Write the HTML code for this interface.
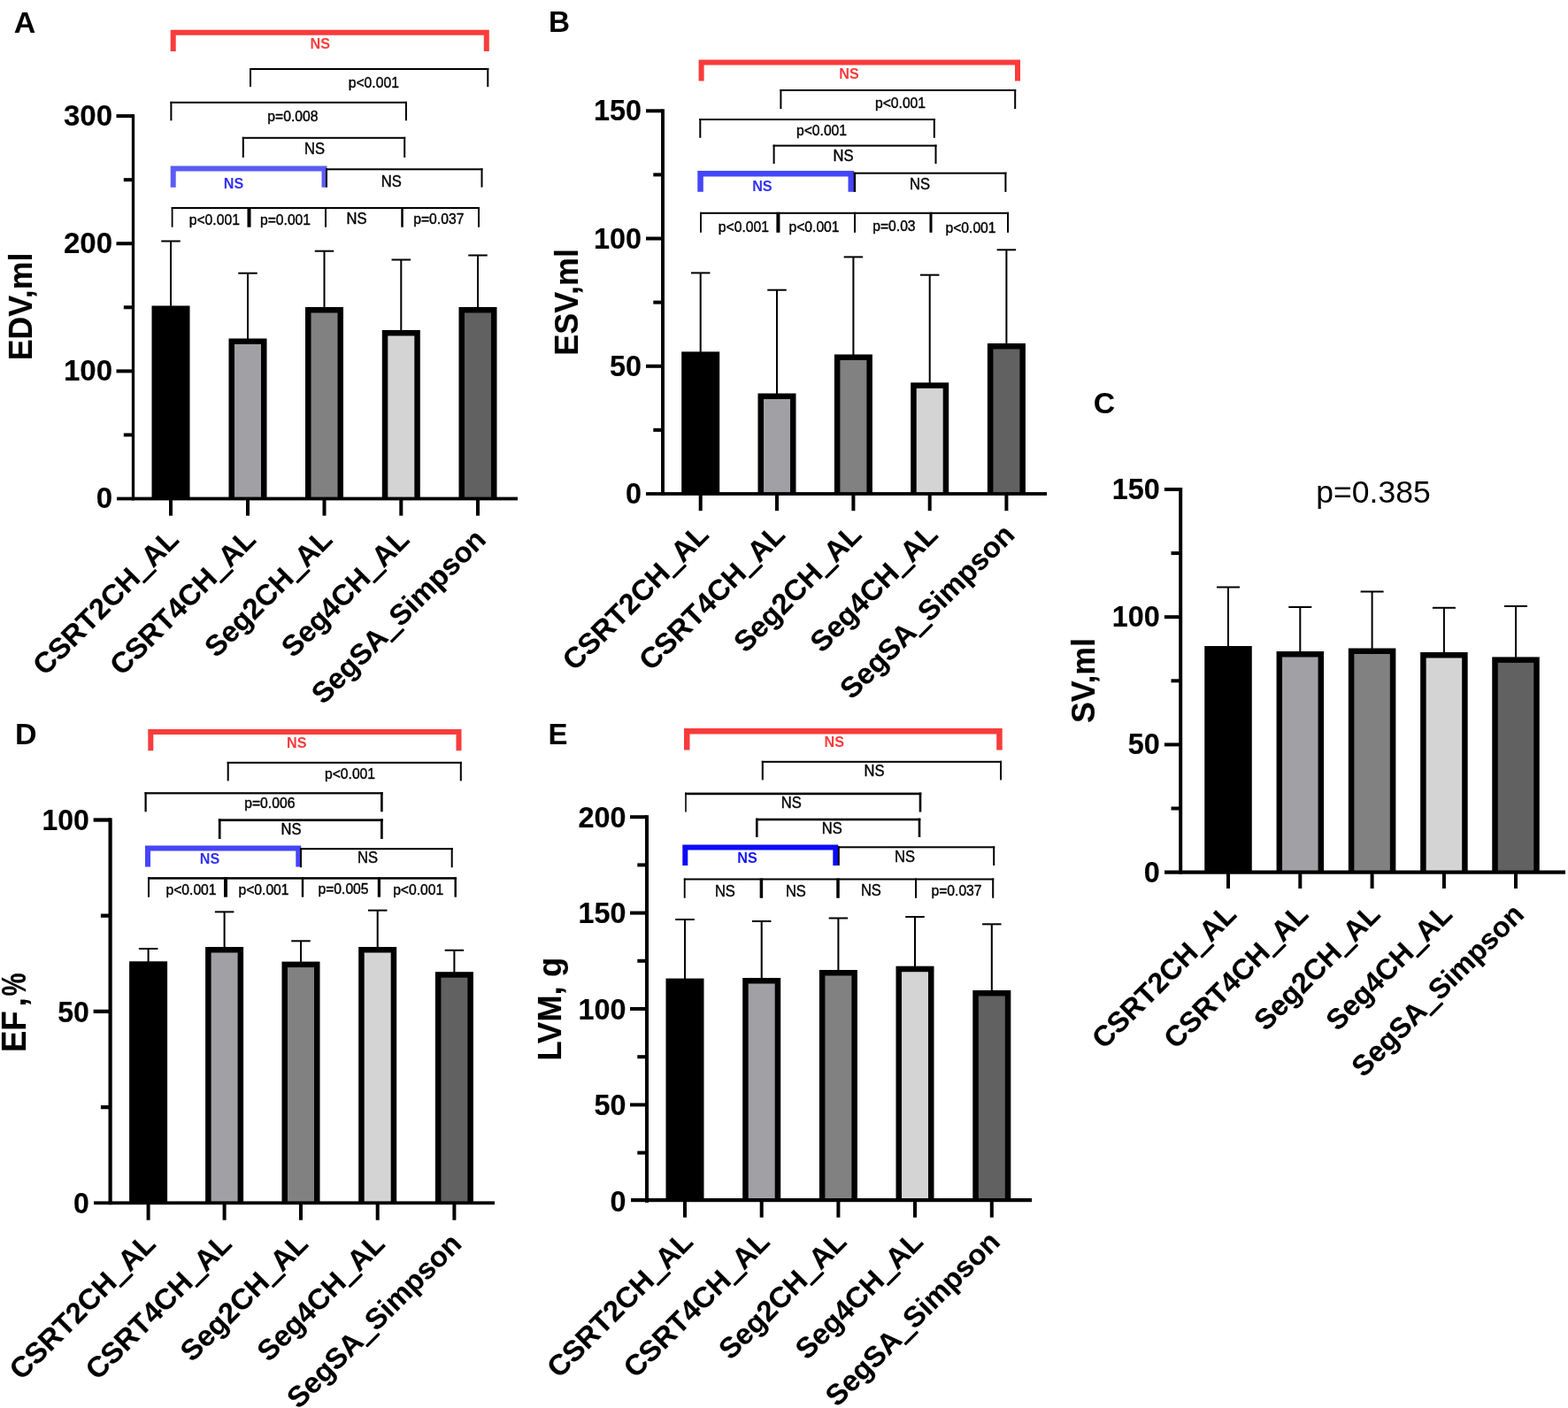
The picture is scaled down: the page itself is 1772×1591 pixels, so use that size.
<!DOCTYPE html>
<html lang="en">
<head>
<meta charset="utf-8">
<title>Figure</title>
<style>
html,body{margin:0;padding:0;background:#fff;}
body{width:1772px;height:1591px;overflow:hidden;}
svg{display:block;font-family:"Liberation Sans",Arial,Helvetica,sans-serif;}
</style>
</head>
<body>
<svg width="1772" height="1591" viewBox="0 0 1772 1591">
<rect width="1772" height="1591" fill="#fff"/>
<g>
<text transform="translate(15.8,36.5)" font-size="34" font-weight="bold" text-anchor="start" fill="#000">A</text>
<rect x="192" y="272.5" width="2" height="74" fill="#000"/>
<rect x="182.25" y="271.5" width="21.5" height="2" fill="#000"/>
<rect x="171.5" y="345.5" width="43" height="218" fill="#000"/>
<rect x="279" y="308.7" width="2" height="74.8" fill="#000"/>
<rect x="269.25" y="307.7" width="21.5" height="2" fill="#000"/>
<rect x="258.5" y="382.5" width="43" height="181" fill="#000"/>
<rect x="265" y="389" width="30" height="174.5" fill="#a1a1a5"/>
<rect x="365.5" y="283.7" width="2" height="64.3" fill="#000"/>
<rect x="355.75" y="282.7" width="21.5" height="2" fill="#000"/>
<rect x="345" y="347" width="43" height="216.5" fill="#000"/>
<rect x="351.5" y="353.5" width="30" height="210" fill="#818181"/>
<rect x="452.3" y="293.5" width="2" height="80.5" fill="#000"/>
<rect x="442.55" y="292.5" width="21.5" height="2" fill="#000"/>
<rect x="431.8" y="373" width="43" height="190.5" fill="#000"/>
<rect x="438.3" y="379.5" width="30" height="184" fill="#d4d4d4"/>
<rect x="539" y="288.5" width="2" height="59.5" fill="#000"/>
<rect x="529.25" y="287.5" width="21.5" height="2" fill="#000"/>
<rect x="518.5" y="347" width="43" height="216.5" fill="#000"/>
<rect x="525" y="353.5" width="30" height="210" fill="#616161"/>
<rect x="148.85" y="129.1" width="3.3" height="436.3" fill="#000"/>
<rect x="132" y="561.6" width="453" height="3.8" fill="#000"/>
<text transform="translate(127,574.41)" font-size="33" font-weight="bold" stroke="#000" stroke-width="0.15" stroke-linejoin="round" text-anchor="end" fill="#000">0</text>
<rect x="139.8" y="489.43" width="10.7" height="4" fill="#000"/>
<rect x="131.5" y="417.37" width="19" height="4" fill="#000"/>
<text transform="translate(127,430.28)" font-size="33" font-weight="bold" stroke="#000" stroke-width="0.15" stroke-linejoin="round" text-anchor="end" fill="#000">100</text>
<rect x="139.8" y="345.3" width="10.7" height="4" fill="#000"/>
<rect x="131.5" y="273.23" width="19" height="4" fill="#000"/>
<text transform="translate(127,286.15)" font-size="33" font-weight="bold" stroke="#000" stroke-width="0.15" stroke-linejoin="round" text-anchor="end" fill="#000">200</text>
<rect x="139.8" y="201.17" width="10.7" height="4" fill="#000"/>
<rect x="131.5" y="129.1" width="19" height="4" fill="#000"/>
<text transform="translate(127,142.01)" font-size="33" font-weight="bold" stroke="#000" stroke-width="0.15" stroke-linejoin="round" text-anchor="end" fill="#000">300</text>
<rect x="191" y="563.5" width="4" height="19.2" fill="#000"/>
<text transform="translate(204,611.5) rotate(-45)" font-size="32.8" font-weight="bold" stroke="#000" stroke-width="0.15" stroke-linejoin="round" text-anchor="end" fill="#000">CSRT2CH<tspan stroke="#000" stroke-width="2">_</tspan>AL</text>
<rect x="278" y="563.5" width="4" height="19.2" fill="#000"/>
<text transform="translate(291,611.5) rotate(-45)" font-size="32.8" font-weight="bold" stroke="#000" stroke-width="0.15" stroke-linejoin="round" text-anchor="end" fill="#000">CSRT4CH<tspan stroke="#000" stroke-width="2">_</tspan>AL</text>
<rect x="364.5" y="563.5" width="4" height="19.2" fill="#000"/>
<text transform="translate(377.5,611.5) rotate(-45)" font-size="32.8" font-weight="bold" stroke="#000" stroke-width="0.15" stroke-linejoin="round" text-anchor="end" fill="#000">Seg2CH<tspan stroke="#000" stroke-width="2">_</tspan>AL</text>
<rect x="451.3" y="563.5" width="4" height="19.2" fill="#000"/>
<text transform="translate(464.3,611.5) rotate(-45)" font-size="32.8" font-weight="bold" stroke="#000" stroke-width="0.15" stroke-linejoin="round" text-anchor="end" fill="#000">Seg4CH<tspan stroke="#000" stroke-width="2">_</tspan>AL</text>
<rect x="538" y="563.5" width="4" height="19.2" fill="#000"/>
<text transform="translate(551,611.5) rotate(-45)" font-size="32.8" font-weight="bold" stroke="#000" stroke-width="0.15" stroke-linejoin="round" text-anchor="end" fill="#000">SegSA<tspan stroke="#000" stroke-width="2">_</tspan>Simpson</text>
<text transform="translate(36.2,346.5) rotate(-90) scale(0.96,1)" font-size="37.2" font-weight="bold" stroke="#000" stroke-width="0.15" stroke-linejoin="round" text-anchor="middle" fill="#000">EDV,ml</text>
<path d="M195.7 58V36.7H549.8V58" fill="none" stroke="#f93b3b" stroke-width="6"/>
<text transform="translate(361.7,55.26) scale(0.94,1)" font-size="17.2" font-weight="bold" text-anchor="middle" fill="#f93b3b">NS</text>
<rect x="282" y="77" width="270.3" height="2" fill="#000"/>
<rect x="282" y="77" width="2" height="21.2" fill="#000"/>
<rect x="550.3" y="77" width="2" height="21.2" fill="#000"/>
<text transform="translate(422.3,98.78) scale(0.94,1)" font-size="16.7" stroke="#000" stroke-width="0.4" stroke-linejoin="round" text-anchor="middle" fill="#000">p&lt;0.001</text>
<rect x="192.4" y="114.8" width="267.5" height="2" fill="#000"/>
<rect x="192.4" y="114.8" width="2" height="21.5" fill="#000"/>
<rect x="457.9" y="114.8" width="2" height="21.5" fill="#000"/>
<text transform="translate(330.9,136.78) scale(0.94,1)" font-size="16.7" stroke="#000" stroke-width="0.4" stroke-linejoin="round" text-anchor="middle" fill="#000">p=0.008</text>
<rect x="273.8" y="154.8" width="184.4" height="2" fill="#000"/>
<rect x="273.8" y="154.8" width="2" height="23.2" fill="#000"/>
<rect x="456.2" y="154.8" width="2" height="23.2" fill="#000"/>
<text transform="translate(355.6,174.37) scale(0.93,1)" font-size="17.8" stroke="#000" stroke-width="0.4" stroke-linejoin="round" text-anchor="middle" fill="#000">NS</text>
<path d="M195.7 211.7V190.5H366.5V211.7" fill="none" stroke="#5b5bf6" stroke-width="6"/>
<rect x="368" y="190.3" width="177.5" height="2" fill="#000"/>
<rect x="368" y="190.3" width="2" height="21.3" fill="#000"/>
<rect x="543.5" y="190.3" width="2" height="21.3" fill="#000"/>
<text transform="translate(264,212.66) scale(0.94,1)" font-size="17.2" font-weight="bold" text-anchor="middle" fill="#3030f0">NS</text>
<text transform="translate(442.3,211.07) scale(0.93,1)" font-size="17.8" stroke="#000" stroke-width="0.4" stroke-linejoin="round" text-anchor="middle" fill="#000">NS</text>
<rect x="193.7" y="234" width="348.3" height="2" fill="#000"/>
<rect x="193.7" y="234" width="1.8" height="22.7" fill="#000"/>
<rect x="279.5" y="234" width="4" height="22.7" fill="#000"/>
<rect x="367" y="234" width="2" height="22.7" fill="#000"/>
<rect x="453.25" y="234" width="2.5" height="22.7" fill="#000"/>
<rect x="540" y="234" width="2" height="22.7" fill="#000"/>
<text transform="translate(242.3,253.78) scale(0.94,1)" font-size="16.7" stroke="#000" stroke-width="0.4" stroke-linejoin="round" text-anchor="middle" fill="#000">p&lt;0.001</text>
<text transform="translate(322.5,253.78) scale(0.94,1)" font-size="16.7" stroke="#000" stroke-width="0.4" stroke-linejoin="round" text-anchor="middle" fill="#000">p=0.001</text>
<text transform="translate(403,253.37) scale(0.93,1)" font-size="17.8" stroke="#000" stroke-width="0.4" stroke-linejoin="round" text-anchor="middle" fill="#000">NS</text>
<text transform="translate(495.8,253.48) scale(0.94,1)" font-size="16.7" stroke="#000" stroke-width="0.4" stroke-linejoin="round" text-anchor="middle" fill="#000">p=0.037</text>
</g>
<g>
<text transform="translate(620,36.3)" font-size="33.3" font-weight="bold" text-anchor="start" fill="#000">B</text>
<rect x="790.7" y="308.4" width="2" height="90" fill="#000"/>
<rect x="780.95" y="307.4" width="21.5" height="2" fill="#000"/>
<rect x="770.2" y="397.4" width="43" height="160.6" fill="#000"/>
<rect x="877" y="327.7" width="2" height="117.8" fill="#000"/>
<rect x="867.25" y="326.7" width="21.5" height="2" fill="#000"/>
<rect x="856.5" y="444.5" width="43" height="113.5" fill="#000"/>
<rect x="863" y="451" width="30" height="107" fill="#a1a1a5"/>
<rect x="963.4" y="290.4" width="2" height="111.1" fill="#000"/>
<rect x="953.65" y="289.4" width="21.5" height="2" fill="#000"/>
<rect x="942.9" y="400.5" width="43" height="157.5" fill="#000"/>
<rect x="949.4" y="407" width="30" height="151" fill="#818181"/>
<rect x="1049.7" y="310.7" width="2" height="122.6" fill="#000"/>
<rect x="1039.95" y="309.7" width="21.5" height="2" fill="#000"/>
<rect x="1029.2" y="432.3" width="43" height="125.7" fill="#000"/>
<rect x="1035.7" y="438.8" width="30" height="119.2" fill="#d4d4d4"/>
<rect x="1136.4" y="282.3" width="2" height="106.7" fill="#000"/>
<rect x="1126.65" y="281.3" width="21.5" height="2" fill="#000"/>
<rect x="1115.9" y="388" width="43" height="170" fill="#000"/>
<rect x="1122.4" y="394.5" width="30" height="163.5" fill="#616161"/>
<rect x="747.05" y="123.3" width="3.9" height="436.6" fill="#000"/>
<rect x="730" y="556.1" width="453" height="3.8" fill="#000"/>
<text transform="translate(725,569.11) scale(0.98,1)" font-size="33" font-weight="bold" stroke="#000" stroke-width="0.15" stroke-linejoin="round" text-anchor="end" fill="#000">0</text>
<rect x="738.3" y="483.88" width="10.7" height="4" fill="#000"/>
<rect x="730" y="411.77" width="19" height="4" fill="#000"/>
<text transform="translate(725,424.88) scale(0.98,1)" font-size="33" font-weight="bold" stroke="#000" stroke-width="0.15" stroke-linejoin="round" text-anchor="end" fill="#000">50</text>
<rect x="738.3" y="339.65" width="10.7" height="4" fill="#000"/>
<rect x="730" y="267.53" width="19" height="4" fill="#000"/>
<text transform="translate(725,280.65) scale(0.98,1)" font-size="33" font-weight="bold" stroke="#000" stroke-width="0.15" stroke-linejoin="round" text-anchor="end" fill="#000">100</text>
<rect x="738.3" y="195.42" width="10.7" height="4" fill="#000"/>
<rect x="730" y="123.3" width="19" height="4" fill="#000"/>
<text transform="translate(725,136.41) scale(0.98,1)" font-size="33" font-weight="bold" stroke="#000" stroke-width="0.15" stroke-linejoin="round" text-anchor="end" fill="#000">150</text>
<rect x="789.7" y="558" width="4" height="19.2" fill="#000"/>
<text transform="translate(802.7,606) rotate(-45)" font-size="32.8" font-weight="bold" stroke="#000" stroke-width="0.15" stroke-linejoin="round" text-anchor="end" fill="#000">CSRT2CH<tspan stroke="#000" stroke-width="2">_</tspan>AL</text>
<rect x="876" y="558" width="4" height="19.2" fill="#000"/>
<text transform="translate(889,606) rotate(-45)" font-size="32.8" font-weight="bold" stroke="#000" stroke-width="0.15" stroke-linejoin="round" text-anchor="end" fill="#000">CSRT4CH<tspan stroke="#000" stroke-width="2">_</tspan>AL</text>
<rect x="962.4" y="558" width="4" height="19.2" fill="#000"/>
<text transform="translate(975.4,606) rotate(-45)" font-size="32.8" font-weight="bold" stroke="#000" stroke-width="0.15" stroke-linejoin="round" text-anchor="end" fill="#000">Seg2CH<tspan stroke="#000" stroke-width="2">_</tspan>AL</text>
<rect x="1048.7" y="558" width="4" height="19.2" fill="#000"/>
<text transform="translate(1061.7,606) rotate(-45)" font-size="32.8" font-weight="bold" stroke="#000" stroke-width="0.15" stroke-linejoin="round" text-anchor="end" fill="#000">Seg4CH<tspan stroke="#000" stroke-width="2">_</tspan>AL</text>
<rect x="1135.4" y="558" width="4" height="19.2" fill="#000"/>
<text transform="translate(1148.4,606) rotate(-45)" font-size="32.8" font-weight="bold" stroke="#000" stroke-width="0.15" stroke-linejoin="round" text-anchor="end" fill="#000">SegSA<tspan stroke="#000" stroke-width="2">_</tspan>Simpson</text>
<text transform="translate(652.6,341.4) rotate(-90) scale(0.96,1)" font-size="37.5" font-weight="bold" stroke="#000" stroke-width="0.15" stroke-linejoin="round" text-anchor="middle" fill="#000">ESV,ml</text>
<path d="M792.6 91.5V70.5H1150V91.5" fill="none" stroke="#f93b3b" stroke-width="6"/>
<text transform="translate(959.6,88.66) scale(0.94,1)" font-size="17.2" font-weight="bold" text-anchor="middle" fill="#f93b3b">NS</text>
<rect x="881.4" y="101" width="266.8" height="2" fill="#000"/>
<rect x="881.4" y="101" width="2" height="22" fill="#000"/>
<rect x="1146.2" y="101" width="2" height="22" fill="#000"/>
<text transform="translate(1017.5,121.98) scale(0.94,1)" font-size="16.7" stroke="#000" stroke-width="0.4" stroke-linejoin="round" text-anchor="middle" fill="#000">p&lt;0.001</text>
<rect x="790.3" y="134" width="266.5" height="2" fill="#000"/>
<rect x="790.3" y="134" width="2" height="21.8" fill="#000"/>
<rect x="1054.8" y="134" width="2" height="21.8" fill="#000"/>
<text transform="translate(928.5,153.48) scale(0.94,1)" font-size="16.7" stroke="#000" stroke-width="0.4" stroke-linejoin="round" text-anchor="middle" fill="#000">p&lt;0.001</text>
<rect x="873.6" y="163.6" width="184.9" height="2" fill="#000"/>
<rect x="873.6" y="163.6" width="2" height="21.4" fill="#000"/>
<rect x="1056.5" y="163.6" width="2" height="21.4" fill="#000"/>
<text transform="translate(953,182.17) scale(0.93,1)" font-size="17.8" stroke="#000" stroke-width="0.4" stroke-linejoin="round" text-anchor="middle" fill="#000">NS</text>
<path d="M791.55 216.7V196.25H961.75V216.7" fill="none" stroke="#4545f8" stroke-width="6.5"/>
<rect x="964.7" y="194.7" width="172.7" height="2" fill="#000"/>
<rect x="964.7" y="194.7" width="2.4" height="22.2" fill="#000"/>
<rect x="1135.4" y="194.7" width="2" height="22.2" fill="#000"/>
<text transform="translate(861.4,215.96) scale(0.94,1)" font-size="17.2" font-weight="bold" text-anchor="middle" fill="#3030f0">NS</text>
<text transform="translate(1039.5,214.37) scale(0.93,1)" font-size="17.8" stroke="#000" stroke-width="0.4" stroke-linejoin="round" text-anchor="middle" fill="#000">NS</text>
<rect x="791.1" y="239.8" width="348.9" height="2" fill="#000"/>
<rect x="791.1" y="239.8" width="1.8" height="23" fill="#000"/>
<rect x="877.4" y="239.8" width="4" height="23" fill="#000"/>
<rect x="965" y="239.8" width="2" height="23" fill="#000"/>
<rect x="1050.5" y="239.8" width="3" height="23" fill="#000"/>
<rect x="1138" y="239.8" width="2" height="23" fill="#000"/>
<text transform="translate(840.4,262.48) scale(0.94,1)" font-size="16.7" stroke="#000" stroke-width="0.4" stroke-linejoin="round" text-anchor="middle" fill="#000">p&lt;0.001</text>
<text transform="translate(920,262.48) scale(0.94,1)" font-size="16.7" stroke="#000" stroke-width="0.4" stroke-linejoin="round" text-anchor="middle" fill="#000">p&lt;0.001</text>
<text transform="translate(1010.4,260.78) scale(0.94,1)" font-size="16.7" stroke="#000" stroke-width="0.4" stroke-linejoin="round" text-anchor="middle" fill="#000">p=0.03</text>
<text transform="translate(1097,263.18) scale(0.94,1)" font-size="16.7" stroke="#000" stroke-width="0.4" stroke-linejoin="round" text-anchor="middle" fill="#000">p&lt;0.001</text>
</g>
<g>
<text transform="translate(1235.8,466.5)" font-size="33.8" font-weight="bold" text-anchor="start" fill="#000">C</text>
<rect x="1387" y="663.5" width="2" height="67.5" fill="#000"/>
<rect x="1375" y="662.5" width="26" height="2" fill="#000"/>
<rect x="1361.25" y="730" width="53.5" height="255.6" fill="#000"/>
<rect x="1468.3" y="686" width="2" height="51" fill="#000"/>
<rect x="1456.3" y="685" width="26" height="2" fill="#000"/>
<rect x="1442.55" y="736" width="53.5" height="249.6" fill="#000"/>
<rect x="1449.05" y="742.5" width="40.5" height="243.1" fill="#a1a1a5"/>
<rect x="1549.6" y="668.5" width="2" height="65" fill="#000"/>
<rect x="1537.6" y="667.5" width="26" height="2" fill="#000"/>
<rect x="1523.85" y="732.5" width="53.5" height="253.1" fill="#000"/>
<rect x="1530.35" y="739" width="40.5" height="246.6" fill="#818181"/>
<rect x="1630.9" y="686.8" width="2" height="51.2" fill="#000"/>
<rect x="1618.9" y="685.8" width="26" height="2" fill="#000"/>
<rect x="1605.15" y="737" width="53.5" height="248.6" fill="#000"/>
<rect x="1611.65" y="743.5" width="40.5" height="242.1" fill="#d4d4d4"/>
<rect x="1712" y="685" width="2" height="58.4" fill="#000"/>
<rect x="1700" y="684" width="26" height="2" fill="#000"/>
<rect x="1686.25" y="742.4" width="53.5" height="243.2" fill="#000"/>
<rect x="1692.75" y="748.9" width="40.5" height="236.7" fill="#616161"/>
<rect x="1332.2" y="551" width="4" height="436.7" fill="#000"/>
<rect x="1316" y="983.5" width="453" height="4.2" fill="#000"/>
<text transform="translate(1310.8,996.51) scale(0.98,1)" font-size="33" font-weight="bold" stroke="#000" stroke-width="0.15" stroke-linejoin="round" text-anchor="end" fill="#000">0</text>
<rect x="1323.5" y="911.5" width="10.7" height="4" fill="#000"/>
<rect x="1315.9" y="839.4" width="18.3" height="4" fill="#000"/>
<text transform="translate(1310.8,852.31) scale(0.98,1)" font-size="33" font-weight="bold" stroke="#000" stroke-width="0.15" stroke-linejoin="round" text-anchor="end" fill="#000">50</text>
<rect x="1323.5" y="767.3" width="10.7" height="4" fill="#000"/>
<rect x="1315.9" y="695.2" width="18.3" height="4" fill="#000"/>
<text transform="translate(1310.8,708.11) scale(0.98,1)" font-size="33" font-weight="bold" stroke="#000" stroke-width="0.15" stroke-linejoin="round" text-anchor="end" fill="#000">100</text>
<rect x="1323.5" y="623.1" width="10.7" height="4" fill="#000"/>
<rect x="1315.9" y="551" width="18.3" height="4" fill="#000"/>
<text transform="translate(1310.8,563.91) scale(0.98,1)" font-size="33" font-weight="bold" stroke="#000" stroke-width="0.15" stroke-linejoin="round" text-anchor="end" fill="#000">150</text>
<rect x="1386" y="985.6" width="4" height="18.4" fill="#000"/>
<text transform="translate(1399,1035.1) rotate(-45)" font-size="32.4" font-weight="bold" stroke="#000" stroke-width="0.15" stroke-linejoin="round" text-anchor="end" fill="#000">CSRT2CH<tspan stroke="#000" stroke-width="2">_</tspan>AL</text>
<rect x="1467.3" y="985.6" width="4" height="18.4" fill="#000"/>
<text transform="translate(1480.3,1035.1) rotate(-45)" font-size="32.4" font-weight="bold" stroke="#000" stroke-width="0.15" stroke-linejoin="round" text-anchor="end" fill="#000">CSRT4CH<tspan stroke="#000" stroke-width="2">_</tspan>AL</text>
<rect x="1548.6" y="985.6" width="4" height="18.4" fill="#000"/>
<text transform="translate(1561.6,1035.1) rotate(-45)" font-size="32.4" font-weight="bold" stroke="#000" stroke-width="0.15" stroke-linejoin="round" text-anchor="end" fill="#000">Seg2CH<tspan stroke="#000" stroke-width="2">_</tspan>AL</text>
<rect x="1629.9" y="985.6" width="4" height="18.4" fill="#000"/>
<text transform="translate(1642.9,1035.1) rotate(-45)" font-size="32.4" font-weight="bold" stroke="#000" stroke-width="0.15" stroke-linejoin="round" text-anchor="end" fill="#000">Seg4CH<tspan stroke="#000" stroke-width="2">_</tspan>AL</text>
<rect x="1711" y="985.6" width="4" height="18.4" fill="#000"/>
<text transform="translate(1724,1035.1) rotate(-45)" font-size="32.4" font-weight="bold" stroke="#000" stroke-width="0.15" stroke-linejoin="round" text-anchor="end" fill="#000">SegSA<tspan stroke="#000" stroke-width="2">_</tspan>Simpson</text>
<text transform="translate(1236.7,769) rotate(-90) scale(0.96,1)" font-size="37.2" font-weight="bold" stroke="#000" stroke-width="0.15" stroke-linejoin="round" text-anchor="middle" fill="#000">SV,ml</text>
<text transform="translate(1552,568.3)" font-size="35.5" text-anchor="middle" fill="#000">p=0.385</text>
</g>
<g>
<text transform="translate(17,841)" font-size="34" font-weight="bold" text-anchor="start" fill="#000">D</text>
<rect x="166.6" y="1072" width="2" height="15.3" fill="#000"/>
<rect x="156.85" y="1071" width="21.5" height="2" fill="#000"/>
<rect x="146.1" y="1086.3" width="43" height="273" fill="#000"/>
<rect x="252.6" y="1030.4" width="2" height="40.6" fill="#000"/>
<rect x="242.85" y="1029.4" width="21.5" height="2" fill="#000"/>
<rect x="232.1" y="1070" width="43" height="289.3" fill="#000"/>
<rect x="238.6" y="1076.5" width="30" height="282.8" fill="#a1a1a5"/>
<rect x="339" y="1063.3" width="2" height="24.3" fill="#000"/>
<rect x="329.25" y="1062.3" width="21.5" height="2" fill="#000"/>
<rect x="318.5" y="1086.6" width="43" height="272.7" fill="#000"/>
<rect x="325" y="1093.1" width="30" height="266.2" fill="#818181"/>
<rect x="425.7" y="1028.7" width="2" height="42.3" fill="#000"/>
<rect x="415.95" y="1027.7" width="21.5" height="2" fill="#000"/>
<rect x="405.2" y="1070" width="43" height="289.3" fill="#000"/>
<rect x="411.7" y="1076.5" width="30" height="282.8" fill="#d4d4d4"/>
<rect x="512.4" y="1073.8" width="2" height="25.4" fill="#000"/>
<rect x="502.65" y="1072.8" width="21.5" height="2" fill="#000"/>
<rect x="491.9" y="1098.2" width="43" height="261.1" fill="#000"/>
<rect x="498.4" y="1104.7" width="30" height="254.6" fill="#616161"/>
<rect x="122.5" y="924.35" width="4.2" height="436.85" fill="#000"/>
<rect x="106" y="1357.4" width="453" height="3.8" fill="#000"/>
<text transform="translate(100.8,1371.11) scale(0.97,1)" font-size="33" font-weight="bold" stroke="#000" stroke-width="0.15" stroke-linejoin="round" text-anchor="end" fill="#000">0</text>
<rect x="113.9" y="1248.95" width="10.7" height="4.3" fill="#000"/>
<rect x="105.6" y="1140.75" width="19" height="4.3" fill="#000"/>
<text transform="translate(100.8,1154.71) scale(0.97,1)" font-size="33" font-weight="bold" stroke="#000" stroke-width="0.15" stroke-linejoin="round" text-anchor="end" fill="#000">50</text>
<rect x="113.9" y="1032.55" width="10.7" height="4.3" fill="#000"/>
<rect x="105.6" y="924.35" width="19" height="4.3" fill="#000"/>
<text transform="translate(100.8,938.31) scale(0.97,1)" font-size="33" font-weight="bold" stroke="#000" stroke-width="0.15" stroke-linejoin="round" text-anchor="end" fill="#000">100</text>
<rect x="165.6" y="1359.3" width="4" height="19.4" fill="#000"/>
<text transform="translate(177.6,1407.3) rotate(-45)" font-size="32.8" font-weight="bold" stroke="#000" stroke-width="0.15" stroke-linejoin="round" text-anchor="end" fill="#000">CSRT2CH<tspan stroke="#000" stroke-width="2">_</tspan>AL</text>
<rect x="251.6" y="1359.3" width="4" height="19.4" fill="#000"/>
<text transform="translate(263.6,1407.3) rotate(-45)" font-size="32.8" font-weight="bold" stroke="#000" stroke-width="0.15" stroke-linejoin="round" text-anchor="end" fill="#000">CSRT4CH<tspan stroke="#000" stroke-width="2">_</tspan>AL</text>
<rect x="338" y="1359.3" width="4" height="19.4" fill="#000"/>
<text transform="translate(350,1407.3) rotate(-45)" font-size="32.8" font-weight="bold" stroke="#000" stroke-width="0.15" stroke-linejoin="round" text-anchor="end" fill="#000">Seg2CH<tspan stroke="#000" stroke-width="2">_</tspan>AL</text>
<rect x="424.7" y="1359.3" width="4" height="19.4" fill="#000"/>
<text transform="translate(436.7,1407.3) rotate(-45)" font-size="32.8" font-weight="bold" stroke="#000" stroke-width="0.15" stroke-linejoin="round" text-anchor="end" fill="#000">Seg4CH<tspan stroke="#000" stroke-width="2">_</tspan>AL</text>
<rect x="511.4" y="1359.3" width="4" height="19.4" fill="#000"/>
<text transform="translate(523.4,1407.3) rotate(-45)" font-size="32.8" font-weight="bold" stroke="#000" stroke-width="0.15" stroke-linejoin="round" text-anchor="end" fill="#000">SegSA<tspan stroke="#000" stroke-width="2">_</tspan>Simpson</text>
<text transform="translate(29.1,1189) rotate(-90) scale(0.95,1)" font-size="38.4" font-weight="bold" stroke="#000" stroke-width="0.15" stroke-linejoin="round" text-anchor="start" fill="#000">EF</text>
<text transform="translate(29.1,1137.6) rotate(-90) scale(0.95,1)" font-size="38.4" font-weight="bold" stroke="#000" stroke-width="0.15" stroke-linejoin="round" text-anchor="start" fill="#000">,</text>
<text transform="translate(29.1,1125.5) rotate(-90) scale(0.76,1)" font-size="38.4" font-weight="bold" stroke="#000" stroke-width="0.15" stroke-linejoin="round" text-anchor="start" fill="#000">%</text>
<path d="M170.3 848.2V826.9H518.5V848.2" fill="none" stroke="#f93b3b" stroke-width="6"/>
<text transform="translate(335.3,844.66) scale(0.94,1)" font-size="17.2" font-weight="bold" text-anchor="middle" fill="#f93b3b">NS</text>
<rect x="256.7" y="860.8" width="265.1" height="2" fill="#000"/>
<rect x="256.7" y="860.8" width="2" height="21.6" fill="#000"/>
<rect x="519.8" y="860.8" width="2" height="21.6" fill="#000"/>
<text transform="translate(395.5,879.78) scale(0.94,1)" font-size="16.7" stroke="#000" stroke-width="0.4" stroke-linejoin="round" text-anchor="middle" fill="#000">p&lt;0.001</text>
<rect x="163.5" y="895.2" width="269.2" height="2.2" fill="#000"/>
<rect x="163.5" y="895.2" width="2.2" height="22.1" fill="#000"/>
<rect x="430.1" y="895.2" width="2.6" height="22.1" fill="#000"/>
<text transform="translate(304.8,913.48) scale(0.94,1)" font-size="16.7" stroke="#000" stroke-width="0.4" stroke-linejoin="round" text-anchor="middle" fill="#000">p=0.006</text>
<rect x="246.85" y="925.35" width="185.9" height="2.7" fill="#000"/>
<rect x="246.85" y="925.35" width="2.7" height="22.65" fill="#000"/>
<rect x="430.05" y="925.35" width="2.7" height="22.65" fill="#000"/>
<text transform="translate(329,942.87) scale(0.93,1)" font-size="17.8" stroke="#000" stroke-width="0.4" stroke-linejoin="round" text-anchor="middle" fill="#000">NS</text>
<path d="M167 979.6V958.4H337.3V979.6" fill="none" stroke="#4545f8" stroke-width="6"/>
<rect x="339" y="958.2" width="172.7" height="2" fill="#000"/>
<rect x="339" y="958.2" width="2" height="22" fill="#000"/>
<rect x="509.7" y="958.2" width="2" height="22" fill="#000"/>
<text transform="translate(237,975.96) scale(0.94,1)" font-size="17.2" font-weight="bold" text-anchor="middle" fill="#3030f0">NS</text>
<text transform="translate(415.5,974.67) scale(0.93,1)" font-size="17.8" stroke="#000" stroke-width="0.4" stroke-linejoin="round" text-anchor="middle" fill="#000">NS</text>
<rect x="167" y="991.15" width="348.9" height="2.5" fill="#000"/>
<rect x="167" y="991.15" width="2" height="22.55" fill="#000"/>
<rect x="253" y="991.15" width="4" height="22.55" fill="#000"/>
<rect x="340.8" y="991.15" width="2.4" height="22.55" fill="#000"/>
<rect x="426.8" y="991.15" width="3.2" height="22.55" fill="#000"/>
<rect x="513.5" y="991.15" width="2.4" height="22.55" fill="#000"/>
<text transform="translate(216,1011.48) scale(0.94,1)" font-size="16.7" stroke="#000" stroke-width="0.4" stroke-linejoin="round" text-anchor="middle" fill="#000">p&lt;0.001</text>
<text transform="translate(298,1011.48) scale(0.94,1)" font-size="16.7" stroke="#000" stroke-width="0.4" stroke-linejoin="round" text-anchor="middle" fill="#000">p&lt;0.001</text>
<text transform="translate(388,1009.98) scale(0.94,1)" font-size="16.7" stroke="#000" stroke-width="0.4" stroke-linejoin="round" text-anchor="middle" fill="#000">p=0.005</text>
<text transform="translate(472.7,1010.98) scale(0.94,1)" font-size="16.7" stroke="#000" stroke-width="0.4" stroke-linejoin="round" text-anchor="middle" fill="#000">p&lt;0.001</text>
</g>
<g>
<text transform="translate(619.6,840.5)" font-size="33" font-weight="bold" text-anchor="start" fill="#000">E</text>
<rect x="773" y="1039" width="2" height="67.6" fill="#000"/>
<rect x="763.25" y="1038" width="21.5" height="2" fill="#000"/>
<rect x="752.5" y="1105.6" width="43" height="251.2" fill="#000"/>
<rect x="859.7" y="1041" width="2" height="65" fill="#000"/>
<rect x="849.95" y="1040" width="21.5" height="2" fill="#000"/>
<rect x="839.2" y="1105" width="43" height="251.8" fill="#000"/>
<rect x="845.7" y="1111.5" width="30" height="245.3" fill="#a1a1a5"/>
<rect x="946.4" y="1037.5" width="2" height="59.5" fill="#000"/>
<rect x="936.65" y="1036.5" width="21.5" height="2" fill="#000"/>
<rect x="925.9" y="1096" width="43" height="260.8" fill="#000"/>
<rect x="932.4" y="1102.5" width="30" height="254.3" fill="#818181"/>
<rect x="1033" y="1036" width="2" height="56.7" fill="#000"/>
<rect x="1023.25" y="1035" width="21.5" height="2" fill="#000"/>
<rect x="1012.5" y="1091.7" width="43" height="265.1" fill="#000"/>
<rect x="1019" y="1098.2" width="30" height="258.6" fill="#d4d4d4"/>
<rect x="1119.8" y="1044.3" width="2" height="75.7" fill="#000"/>
<rect x="1110.05" y="1043.3" width="21.5" height="2" fill="#000"/>
<rect x="1099.3" y="1119" width="43" height="237.8" fill="#000"/>
<rect x="1105.8" y="1125.5" width="30" height="231.3" fill="#616161"/>
<rect x="729" y="921.2" width="4" height="437.7" fill="#000"/>
<rect x="713" y="1354" width="453" height="4.2" fill="#000"/>
<text transform="translate(707.4,1368.61) scale(0.98,1)" font-size="33" font-weight="bold" stroke="#000" stroke-width="0.15" stroke-linejoin="round" text-anchor="end" fill="#000">0</text>
<rect x="720.3" y="1300.6" width="10.7" height="4" fill="#000"/>
<rect x="712" y="1246.4" width="19" height="4" fill="#000"/>
<text transform="translate(707.4,1260.21) scale(0.98,1)" font-size="33" font-weight="bold" stroke="#000" stroke-width="0.15" stroke-linejoin="round" text-anchor="end" fill="#000">50</text>
<rect x="720.3" y="1192.2" width="10.7" height="4" fill="#000"/>
<rect x="712" y="1138" width="19" height="4" fill="#000"/>
<text transform="translate(707.4,1151.81) scale(0.98,1)" font-size="33" font-weight="bold" stroke="#000" stroke-width="0.15" stroke-linejoin="round" text-anchor="end" fill="#000">100</text>
<rect x="720.3" y="1083.8" width="10.7" height="4" fill="#000"/>
<rect x="712" y="1029.6" width="19" height="4" fill="#000"/>
<text transform="translate(707.4,1043.41) scale(0.98,1)" font-size="33" font-weight="bold" stroke="#000" stroke-width="0.15" stroke-linejoin="round" text-anchor="end" fill="#000">150</text>
<rect x="720.3" y="975.4" width="10.7" height="4" fill="#000"/>
<rect x="712" y="921.2" width="19" height="4" fill="#000"/>
<text transform="translate(707.4,935.01) scale(0.98,1)" font-size="33" font-weight="bold" stroke="#000" stroke-width="0.15" stroke-linejoin="round" text-anchor="end" fill="#000">200</text>
<rect x="772" y="1356.1" width="4" height="19.6" fill="#000"/>
<text transform="translate(785,1405.1) rotate(-45)" font-size="32.8" font-weight="bold" stroke="#000" stroke-width="0.15" stroke-linejoin="round" text-anchor="end" fill="#000">CSRT2CH<tspan stroke="#000" stroke-width="2">_</tspan>AL</text>
<rect x="858.7" y="1356.1" width="4" height="19.6" fill="#000"/>
<text transform="translate(871.7,1405.1) rotate(-45)" font-size="32.8" font-weight="bold" stroke="#000" stroke-width="0.15" stroke-linejoin="round" text-anchor="end" fill="#000">CSRT4CH<tspan stroke="#000" stroke-width="2">_</tspan>AL</text>
<rect x="945.4" y="1356.1" width="4" height="19.6" fill="#000"/>
<text transform="translate(958.4,1405.1) rotate(-45)" font-size="32.8" font-weight="bold" stroke="#000" stroke-width="0.15" stroke-linejoin="round" text-anchor="end" fill="#000">Seg2CH<tspan stroke="#000" stroke-width="2">_</tspan>AL</text>
<rect x="1032" y="1356.1" width="4" height="19.6" fill="#000"/>
<text transform="translate(1045,1405.1) rotate(-45)" font-size="32.8" font-weight="bold" stroke="#000" stroke-width="0.15" stroke-linejoin="round" text-anchor="end" fill="#000">Seg4CH<tspan stroke="#000" stroke-width="2">_</tspan>AL</text>
<rect x="1118.8" y="1356.1" width="4" height="19.6" fill="#000"/>
<text transform="translate(1131.8,1405.1) rotate(-45)" font-size="32.8" font-weight="bold" stroke="#000" stroke-width="0.15" stroke-linejoin="round" text-anchor="end" fill="#000">SegSA<tspan stroke="#000" stroke-width="2">_</tspan>Simpson</text>
<text transform="translate(633.6,1140.3) rotate(-90) scale(0.98,1)" font-size="37.3" font-weight="bold" stroke="#000" stroke-width="0.15" stroke-linejoin="round" text-anchor="middle" fill="#000">LVM, g</text>
<path d="M776.25 847.6V826.35H1129.45V847.6" fill="none" stroke="#f93b3b" stroke-width="6.5"/>
<text transform="translate(942.7,843.66) scale(0.94,1)" font-size="17.2" font-weight="bold" text-anchor="middle" fill="#f93b3b">NS</text>
<rect x="860.8" y="859.8" width="271.2" height="2" fill="#000"/>
<rect x="860.8" y="859.8" width="2" height="21.6" fill="#000"/>
<rect x="1130" y="859.8" width="2" height="21.6" fill="#000"/>
<text transform="translate(988,876.67) scale(0.93,1)" font-size="17.8" stroke="#000" stroke-width="0.4" stroke-linejoin="round" text-anchor="middle" fill="#000">NS</text>
<rect x="774.2" y="895.6" width="267.1" height="2.6" fill="#000"/>
<rect x="774.2" y="895.6" width="1.6" height="21.9" fill="#000"/>
<rect x="1038.7" y="895.6" width="2.6" height="21.9" fill="#000"/>
<text transform="translate(894.3,912.87) scale(0.93,1)" font-size="17.8" stroke="#000" stroke-width="0.4" stroke-linejoin="round" text-anchor="middle" fill="#000">NS</text>
<rect x="854" y="924.7" width="186.3" height="2.6" fill="#000"/>
<rect x="854" y="924.7" width="2.6" height="21.3" fill="#000"/>
<rect x="1037.7" y="924.7" width="2.6" height="21.3" fill="#000"/>
<text transform="translate(940.3,941.67) scale(0.93,1)" font-size="17.8" stroke="#000" stroke-width="0.4" stroke-linejoin="round" text-anchor="middle" fill="#000">NS</text>
<path d="M774.3 978V957.5H944.3V978" fill="none" stroke="#0a0afa" stroke-width="6"/>
<rect x="946.8" y="956.3" width="177.4" height="2" fill="#000"/>
<rect x="946.8" y="956.3" width="2" height="21.7" fill="#000"/>
<rect x="1122.2" y="956.3" width="2" height="21.7" fill="#000"/>
<text transform="translate(844.5,975.36) scale(0.94,1)" font-size="17.2" font-weight="bold" text-anchor="middle" fill="#1414f5">NS</text>
<text transform="translate(1022.6,973.87) scale(0.93,1)" font-size="17.8" stroke="#000" stroke-width="0.4" stroke-linejoin="round" text-anchor="middle" fill="#000">NS</text>
<rect x="772.8" y="992.5" width="350.4" height="2" fill="#000"/>
<rect x="772.8" y="992.5" width="1.8" height="22.3" fill="#000"/>
<rect x="858.65" y="992.5" width="3.5" height="22.3" fill="#000"/>
<rect x="945.25" y="992.5" width="3.5" height="22.3" fill="#000"/>
<rect x="1034" y="992.5" width="2" height="22.3" fill="#000"/>
<rect x="1121.2" y="992.5" width="2" height="22.3" fill="#000"/>
<text transform="translate(819.4,1012.87) scale(0.93,1)" font-size="17.8" stroke="#000" stroke-width="0.4" stroke-linejoin="round" text-anchor="middle" fill="#000">NS</text>
<text transform="translate(899.4,1012.87) scale(0.93,1)" font-size="17.8" stroke="#000" stroke-width="0.4" stroke-linejoin="round" text-anchor="middle" fill="#000">NS</text>
<text transform="translate(984.4,1011.57) scale(0.93,1)" font-size="17.8" stroke="#000" stroke-width="0.4" stroke-linejoin="round" text-anchor="middle" fill="#000">NS</text>
<text transform="translate(1081,1012.48) scale(0.94,1)" font-size="16.7" stroke="#000" stroke-width="0.4" stroke-linejoin="round" text-anchor="middle" fill="#000">p=0.037</text>
</g>
</svg>
</body>
</html>
